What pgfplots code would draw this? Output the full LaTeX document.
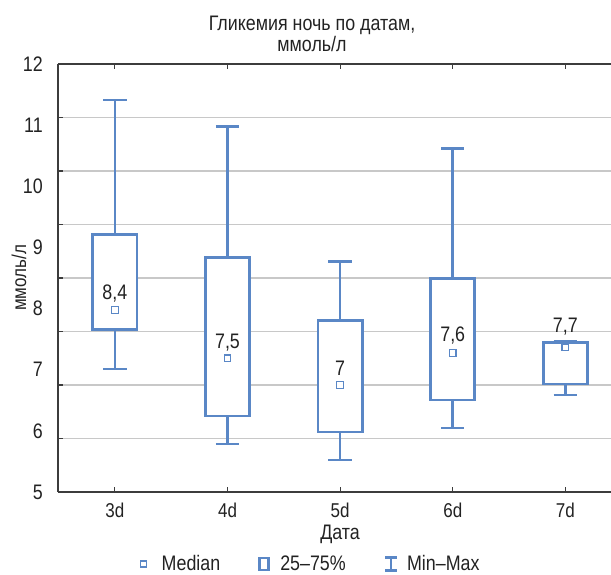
\documentclass[border=0pt]{standalone}
\usepackage{fontspec}
\setmainfont[FakeStretch=0.85]{Liberation Sans}
\usepackage{pgfplots}
\pgfplotsset{compat=1.18}

\definecolor{boxblue}{HTML}{5A87C6}
\definecolor{gridgray}{HTML}{C8C8C8}
\definecolor{axisgray}{HTML}{3C3C3C}
\definecolor{txt}{HTML}{222222}
\newcommand\fs{\fontsize{21}{25}\selectfont}

\pgfplotsset{
  % 25-75% box: closed outline filled white
  qbox/.style={boxblue, line width=2.8pt, line join=miter, fill=white, forget plot},
  % min--max whiskers with caps
  whisk/.style={boxblue, line width=2.6pt, unbounded coords=jump, forget plot},
}

\begin{document}
\begin{tikzpicture}
\begin{axis}[
  name=ax,
  scale only axis, width=553pt, height=428pt,
  xmin=-0.505, xmax=4.405, ymin=5, ymax=13,
  axis x line=box, axis y line=left,
  axis line style={-, axisgray, line width=1.3pt},
  xtick={0,1,2,3,4}, xticklabels={3d,4d,5d,6d,7d},
  xtick pos=both, xticklabel pos=lower,
  ytick={6,...,12}, yticklabels={},
  ytick pos=left,
  extra y ticks={5,6.142857,7.285714,8.428571,9.571429,10.714286,11.857143,13},
  extra y tick labels={5,6,7,8,9,10,11,12},
  extra y tick style={grid=none, major tick length=0pt},
  ymajorgrids, major grid style={gridgray, line width=1.2pt},
  tick align=inside, major tick length=5pt,
  tick style={axisgray, line width=1.2pt},
  yticklabel style={font=\fs, text=txt, anchor=east, xshift=-11.7pt},
  xticklabel style={font=\fontsize{20}{24}\selectfont, text=txt, anchor=base, yshift=-25pt},
  xlabel={Дата},
  xlabel style={font=\fs, text=txt, at={(axis description cs:0.51,0)}, anchor=base, yshift=-47pt},
  ylabel={ммоль/л},
  ylabel style={font=\fontsize{20}{24}\selectfont, text=txt, at={(axis description cs:-0.0705,0.5)}, anchor=center},
  legend columns=3,
  legend cell align=left,
  legend style={at={(axis description cs:0.455,-0.1683)}, anchor=center,
    draw=none, fill=none, font=\fs, text=txt, inner sep=0pt,
    /tikz/every even column/.append style={column sep=36pt}},
]

% whiskers (min -> lower quartile, upper quartile -> max) with caps
\addplot[whisk] coordinates {(0,9.81)(0,12.33) (0,nan) (-0.1035,12.33)(0.1035,12.33) (0,nan)
  (0,8.04)(0,7.30) (0,nan) (-0.1035,7.30)(0.1035,7.30)};
\addplot[whisk] coordinates {(1,9.39)(1,11.83) (1,nan) (0.8965,11.83)(1.1035,11.83) (1,nan)
  (1,6.42)(1,5.90) (1,nan) (0.8965,5.90)(1.1035,5.90)};
\addplot[whisk] coordinates {(2,8.20)(2,9.31) (2,nan) (1.8965,9.31)(2.1035,9.31) (2,nan)
  (2,6.12)(2,5.60) (2,nan) (1.8965,5.60)(2.1035,5.60)};
\addplot[whisk] coordinates {(3,8.99)(3,11.42) (3,nan) (2.8965,11.42)(3.1035,11.42) (3,nan)
  (3,6.72)(3,6.20) (3,nan) (2.8965,6.20)(3.1035,6.20)};
\addplot[whisk] coordinates {(3.8965,7.82)(4.1035,7.82) (4,nan)
  (4,7.02)(4,6.81) (4,nan) (3.8965,6.81)(4.1035,6.81)};

% quartile boxes
\addplot[qbox] coordinates {(-0.1965,8.04)(0.1965,8.04)(0.1965,9.81)(-0.1965,9.81)} -- cycle;
\addplot[qbox] coordinates {(0.8035,6.42)(1.1965,6.42)(1.1965,9.39)(0.8035,9.39)} -- cycle;
\addplot[qbox] coordinates {(1.8035,6.12)(2.1965,6.12)(2.1965,8.20)(1.8035,8.20)} -- cycle;
\addplot[qbox] coordinates {(2.8035,6.72)(3.1965,6.72)(3.1965,8.99)(2.8035,8.99)} -- cycle;
\addplot[qbox] coordinates {(3.8035,7.02)(4.1965,7.02)(4.1965,7.80)(3.8035,7.80)} -- cycle;

% medians
\addplot[only marks, mark=square*, mark size=3.3pt, forget plot,
  mark options={draw=boxblue, fill=white, line width=1.2pt}]
  coordinates {(0,8.4) (1,7.5) (2,7.0) (3,7.6) (4,7.7)};

\node[font=\fs, text=txt, anchor=base, yshift=11pt] at (axis cs:0,8.4) {8,4};
\node[font=\fs, text=txt, anchor=base, yshift=10pt] at (axis cs:1,7.5) {7,5};
\node[font=\fs, text=txt, anchor=base, yshift=10pt] at (axis cs:2,7.0) {7};
\node[font=\fs, text=txt, anchor=base, yshift=11pt] at (axis cs:3,7.6) {7,6};
\node[font=\fs, text=txt, anchor=base, yshift=15pt] at (axis cs:4,7.7) {7,7};

% legend
\addlegendimage{legend image code/.code={
  \path[draw=none, fill=none] (-6pt,-7pt) rectangle (16pt,7pt);
  \draw[boxblue, line width=1.2pt, fill=white] (-3pt,-3pt) rectangle (3pt,3pt);}}
\addlegendentry{Median}
\addlegendimage{legend image code/.code={
  \path[draw=none, fill=none] (-6pt,-7pt) rectangle (14pt,7pt);
  \draw[boxblue, line width=2.8pt, fill=none] (-4.5pt,-6pt) rectangle (4.5pt,6pt);}}
\addlegendentry{25–75\%}
\addlegendimage{legend image code/.code={
  \path[draw=none, fill=none] (-6pt,-7pt) rectangle (14pt,7pt);
  \draw[boxblue, line width=2.6pt] (-6pt,6.3pt) -- (6pt,6.3pt) (0,6.3pt) -- (0,-6.3pt) (-6pt,-6.3pt) -- (6pt,-6.3pt);}}
\addlegendentry{Min–Max}
\end{axis}

\node[font=\fs, text=txt, anchor=base] at ([shift={(254pt,34pt)}]ax.north west) {Гликемия ночь по датам,};
\node[font=\fs, text=txt, anchor=base] at ([shift={(254pt,13pt)}]ax.north west) {ммоль/л};

\pgfresetboundingbox
\path[use as bounding box] ([shift={(-58pt,-82pt)}]ax.south west) rectangle ++(611pt,574pt);
\end{tikzpicture}
\end{document}
